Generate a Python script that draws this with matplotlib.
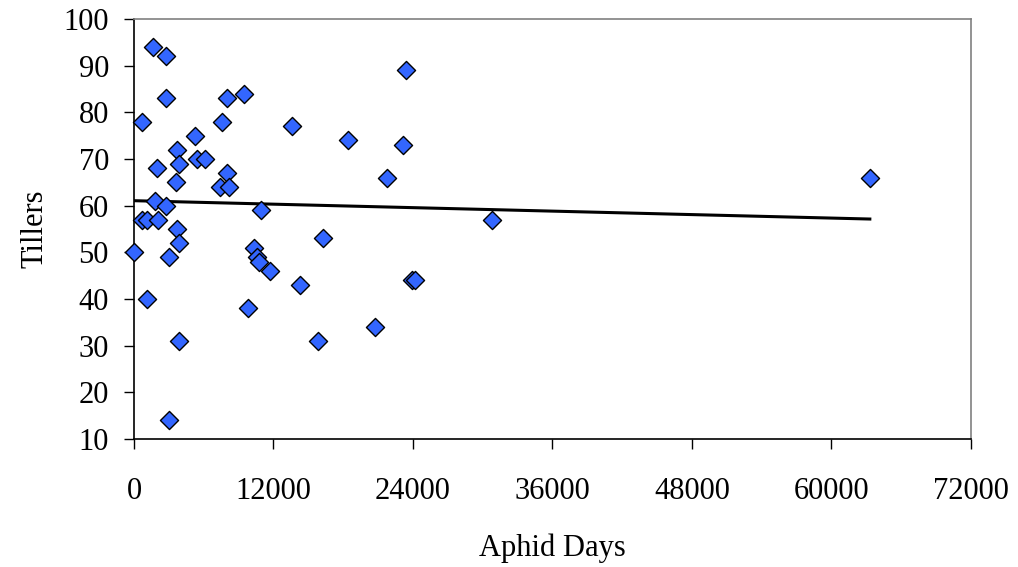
import numpy as np
import matplotlib
matplotlib.use("Agg")
import matplotlib.pyplot as plt

plt.rcParams['font.family'] = ['Liberation Serif', 'DejaVu Serif']

# Data
aphid_days = [0, 700, 700, 1100, 1100, 1630, 1800, 1980, 2070, 2750,
              2750, 2750, 3010, 3010, 3600, 3700, 3700, 3900, 3900, 3900,
              5250, 5400, 6100, 7570, 7400, 8000, 8000, 8170, 9460, 9800,
              10300, 10580, 10750, 10920, 11700, 13600, 14280, 15830, 16250, 18400,
              20730, 21760, 23100, 23400, 23950, 24200, 30800, 63300]
tillers = [50, 78, 57, 57, 40, 94, 61, 68, 57, 92,
           83, 60, 49, 14, 65, 72, 55, 69, 52, 31,
           75, 70, 70, 78, 64, 83, 67, 64, 84, 38,
           51, 49, 48, 59, 46, 77, 43, 31, 53, 74,
           34, 66, 73, 89, 44, 44, 57, 66]

x = np.array(aphid_days, dtype=float)
y = np.array(tillers, dtype=float)

# linear trend line
slope, intercept = np.polyfit(x, y, 1)
xl = np.array([x.min(), x.max()])
yl = slope * xl + intercept

fig = plt.figure(figsize=(10.18, 5.67), dpi=100)
ax = fig.add_axes([0.1316, 0.2257, 0.8222, 0.7408])

ax.scatter(x, y, marker='D', s=85, facecolor='#3366FF', edgecolor='black',
           linewidth=1.0, zorder=3, clip_on=False)
ax.plot(xl, yl, color='black', linewidth=2.2, zorder=2)

ax.set_xlim(0, 72000)
ax.set_ylim(10, 100)
ax.set_xticks(np.arange(0, 72001, 12000))
ax.set_yticks(np.arange(10, 101, 10))

ax.spines['top'].set_color('#808080')
ax.spines['right'].set_color('#808080')
ax.spines['left'].set_color('black')
ax.spines['bottom'].set_color('black')
for s in ax.spines.values():
    s.set_linewidth(1.2)

ax.tick_params(axis='both', direction='out', length=7, width=1, labelsize=22)
ax.tick_params(axis='x', pad=20)
ax.tick_params(axis='y', pad=11)

ax.set_xlabel('Aphid Days', fontsize=22, labelpad=20)
ax.set_ylabel('Tillers', fontsize=22, labelpad=10)

fig.savefig('out.png', dpi=100)
